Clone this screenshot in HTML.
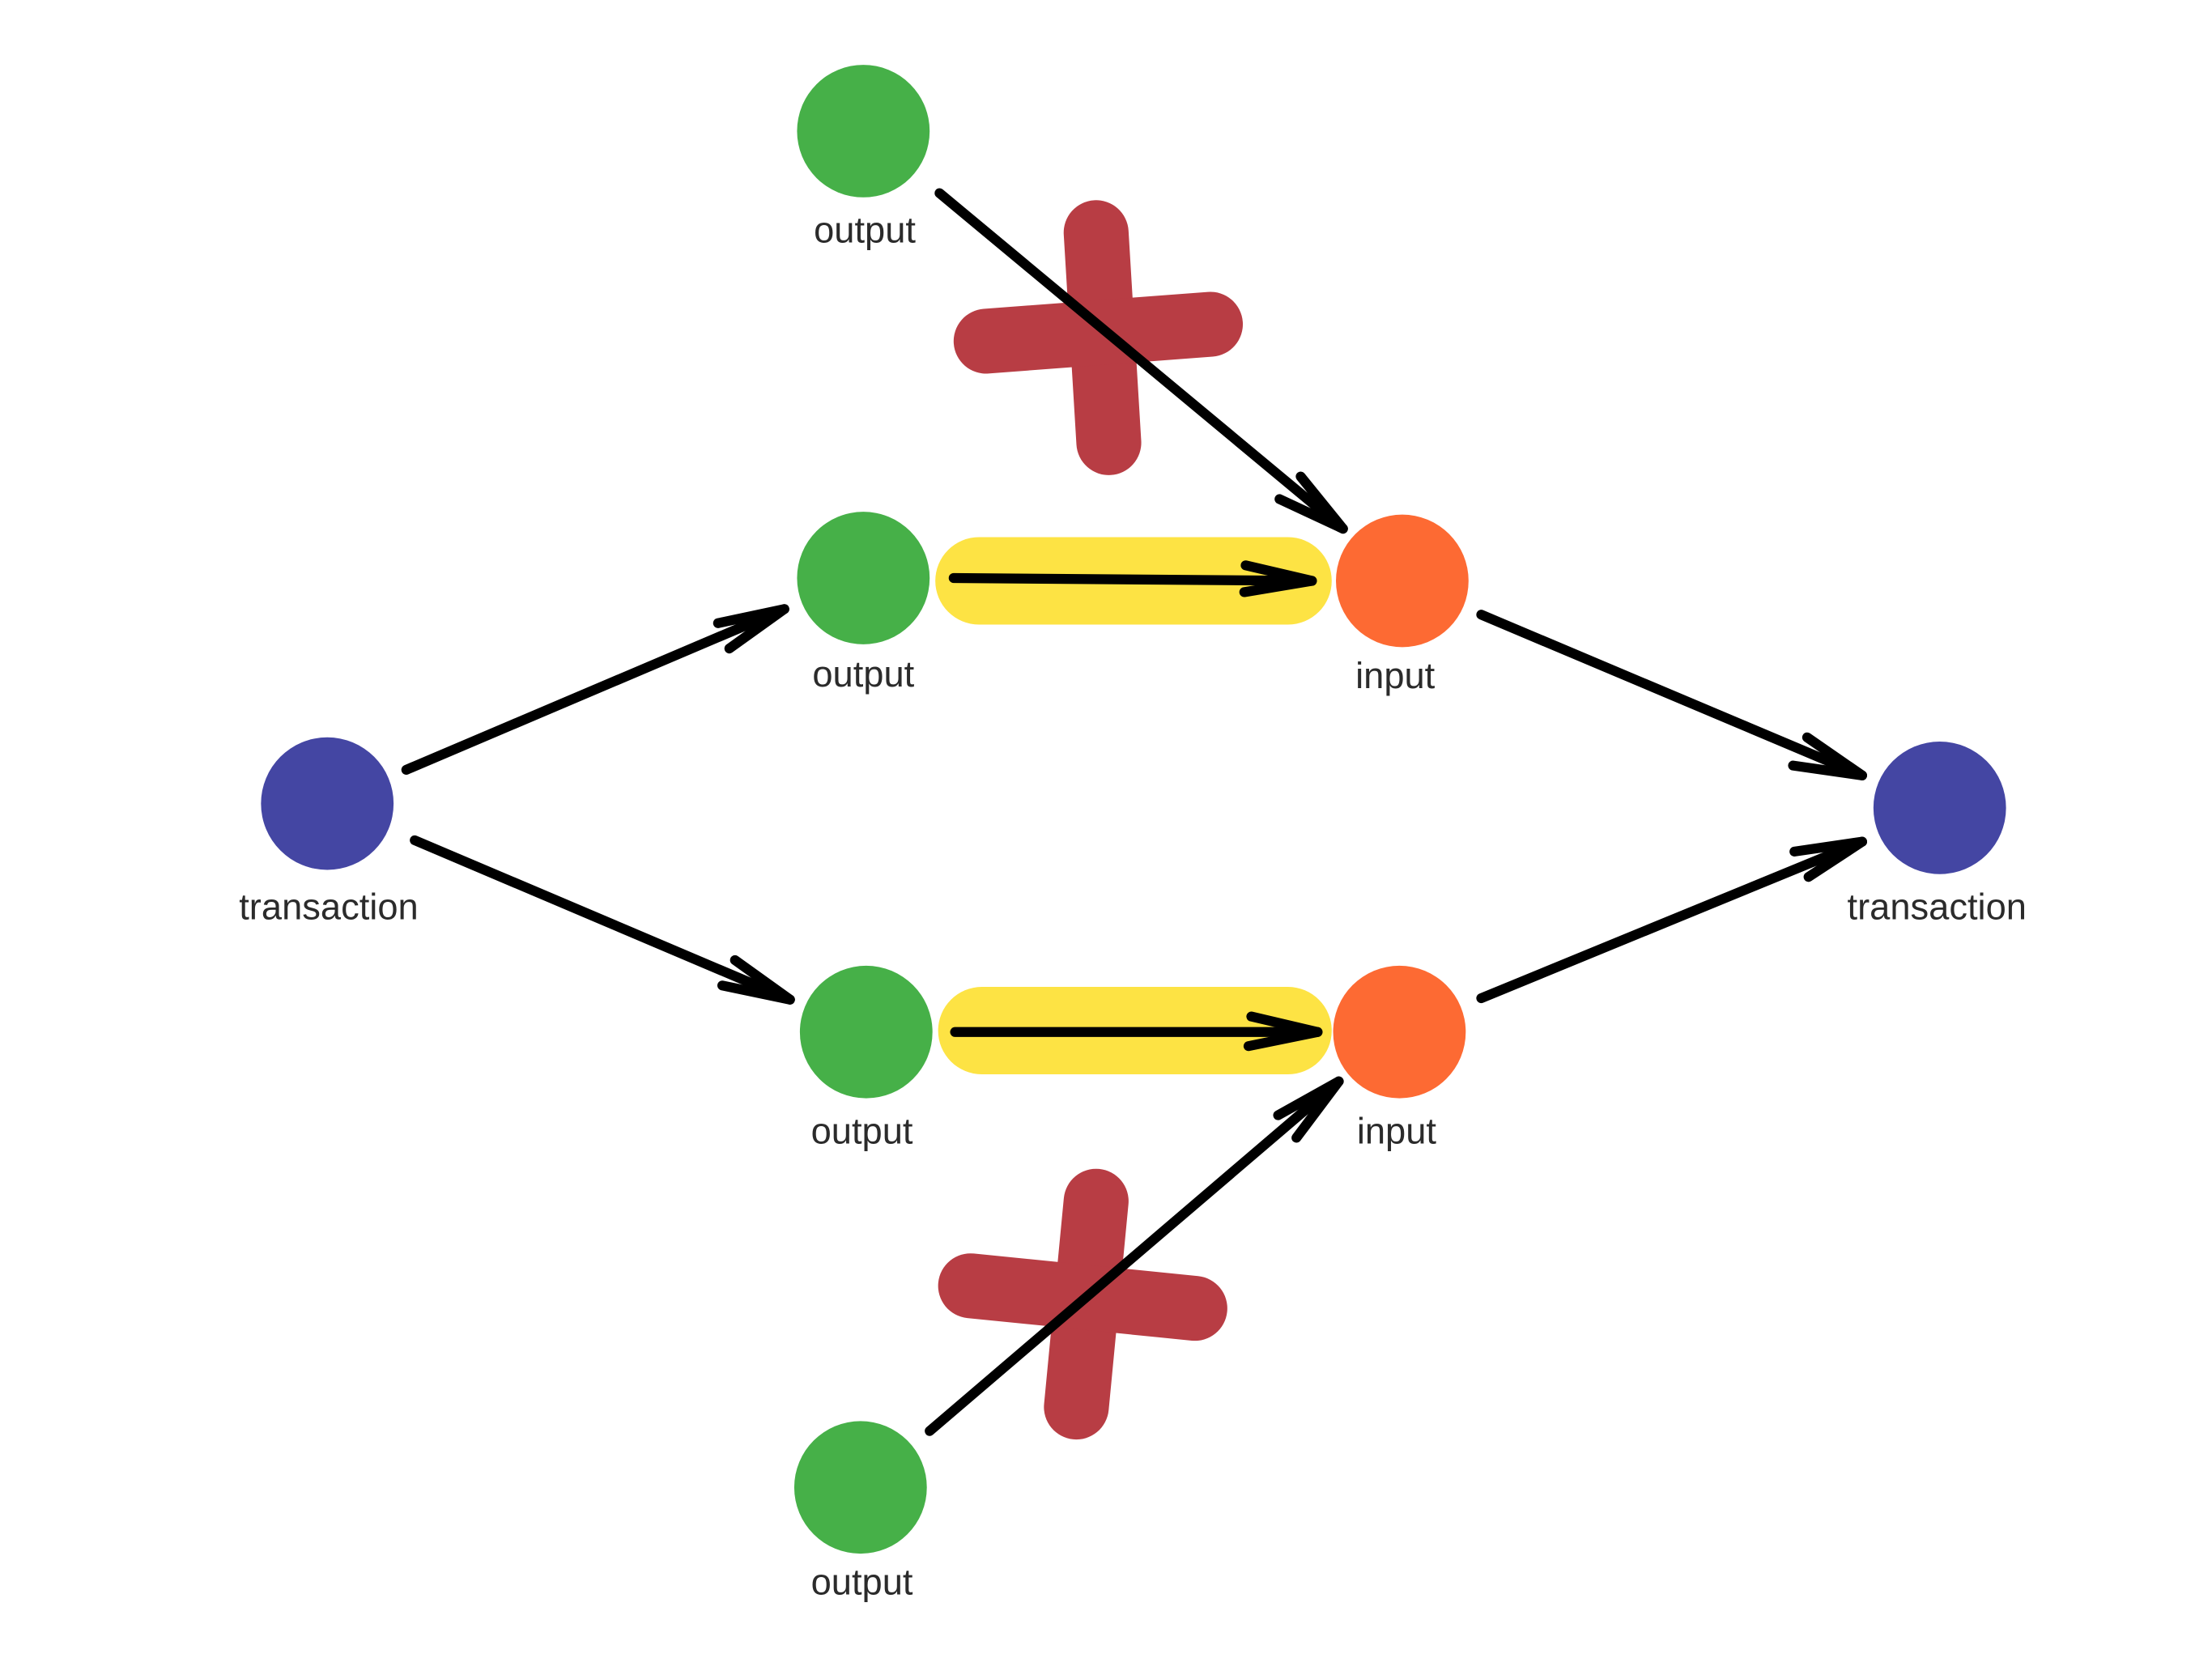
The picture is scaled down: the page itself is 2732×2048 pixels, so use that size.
<!DOCTYPE html>
<html><head><meta charset="utf-8"><style>
html,body{margin:0;padding:0;background:#fff;}
svg{display:block;}
text{font-family:"Liberation Sans",sans-serif;font-size:26px;fill:#2b2b2b;text-anchor:middle;}
</style></head><body>
<svg width="2732" height="2048" viewBox="0 0 1568 1176" preserveAspectRatio="none" xmlns="http://www.w3.org/2000/svg">
<rect width="1568" height="1176" fill="#fff"/>
<rect x="663" y="381" width="281" height="62" rx="31" fill="#fde344"/>
<rect x="665" y="700" width="279" height="62" rx="31" fill="#fde344"/>
<g stroke="#b83d44" stroke-width="46" stroke-linecap="round" fill="none">
<line x1="777" y1="165" x2="786" y2="314"/>
<line x1="699" y1="242" x2="858" y2="230"/>
<line x1="777" y1="852" x2="763" y2="998"/>
<line x1="688" y1="912" x2="847" y2="928"/>
</g>
<g>
<circle cx="612" cy="93" r="47" fill="#46b048"/>
<circle cx="612" cy="410" r="47" fill="#46b048"/>
<circle cx="614" cy="732" r="47" fill="#46b048"/>
<circle cx="610" cy="1055" r="47" fill="#46b048"/>
<circle cx="994" cy="412" r="47" fill="#fd6a33"/>
<circle cx="992" cy="732" r="47" fill="#fd6a33"/>
<circle cx="232" cy="570" r="47" fill="#4446a3"/>
<circle cx="1375" cy="573" r="47" fill="#4446a3"/>
</g>
<g stroke="#000" stroke-width="7" stroke-linecap="round" stroke-linejoin="round" fill="none">
<line x1="676" y1="410" x2="930" y2="412"/><polyline points="883,401 930,412 882,420"/>
<line x1="677" y1="732" x2="934" y2="732"/><polyline points="887,721 934,732 885,742"/>
<line x1="666" y1="137" x2="952" y2="375"/><polyline points="922,338 952,375 907,354"/>
<line x1="659" y1="1015" x2="949" y2="767"/><polyline points="906,791 949,767 919,807"/>
<line x1="288" y1="546" x2="556" y2="432"/><polyline points="509,442 556,432 517,460"/>
<line x1="294" y1="596" x2="560" y2="709"/><polyline points="521,681 560,709 512,699"/>
<line x1="1050" y1="436" x2="1320" y2="550"/><polyline points="1281,523 1320,550 1271,543"/>
<line x1="1050" y1="708" x2="1320" y2="597"/><polyline points="1272,604 1320,597 1282,622"/>
</g>
<text x="613" y="172">output</text>
<text x="612" y="487">output</text>
<text x="989" y="488">input</text>
<text x="233" y="652">transaction</text>
<text x="1373" y="652">transaction</text>
<text x="611" y="811">output</text>
<text x="990" y="811">input</text>
<text x="611" y="1131">output</text>
</svg>
</body></html>
